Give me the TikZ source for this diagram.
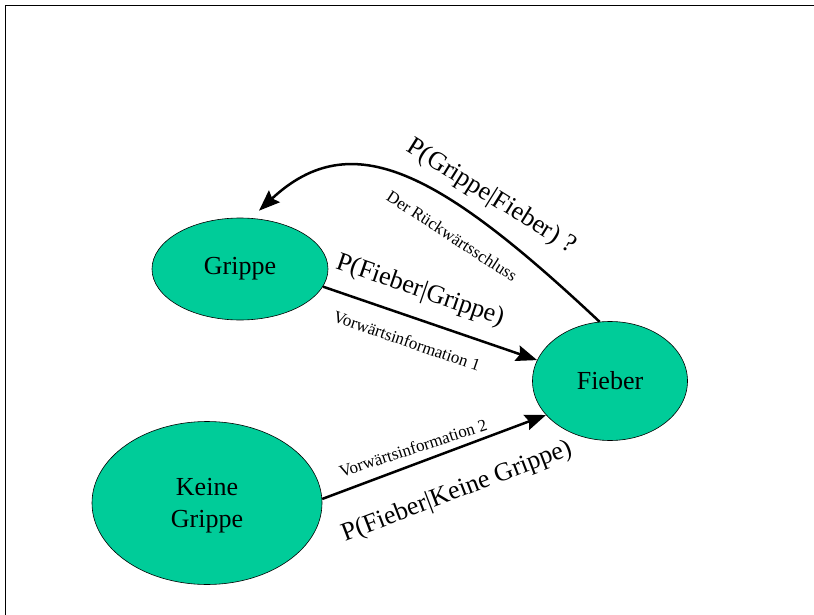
\documentclass[tikz,border=0pt]{standalone}
\usepackage{fontspec}
\setmainfont{Liberation Serif}
\usetikzlibrary{arrows.meta, shapes.geometric}
\definecolor{gruen}{HTML}{00CC99}
\tikzstyle{ereignis} = [ellipse, draw=black, line width=0.6pt, fill=gruen,
    inner sep=0pt, align=center, font=\fontsize{26}{32}\selectfont]

\begin{document}
\begin{tikzpicture}[x=1pt, y=-1pt,
pfeil/.style = {line width=2.5pt, -{Stealth[length=21pt, width=16pt, inset=3pt]}},
gross/.style = {font=\fontsize{26}{31}\selectfont, inner sep=0pt},
klein/.style = {font=\fontsize{17}{20}\selectfont, inner sep=0pt}
                        ]
\useasboundingbox (0,0) rectangle (814,615);
\draw[line width=1pt] (814,6) -- (5,6) -- (5,615);

% Ereignisse
\node [ereignis, minimum width=176pt, minimum height=102pt] (grippe) at (240,269) {Grippe};
\node [ereignis, minimum width=155pt, minimum height=119pt] (fieber) at (610,381) {Fieber};
\node [ereignis, minimum width=230pt, minimum height=163pt, text depth=0pt] (keine) at (207,503) {Keine\\Grippe};
\coordinate (gspitze) at ([shift={(19,-7)}]grippe.north);

% Pfeile
\draw [pfeil] (grippe.-12.7) -- (fieber.164.8);
\draw [pfeil] (keine.2.5) -- (fieber.208.3);
\draw [pfeil] (fieber.100) .. controls (440,172) and (352,124) .. (gspitze);

% Beschriftungen
\node [gross, rotate=-32] (lrueck) at (491,197) {P(Grippe|Fieber) ?};
\node [klein, rotate=-33] (trueck) at (452,236) {Der Rückwärtsschluss};
\node [gross, rotate=-19] (lvor1) at (420,291) {P(Fieber|Grippe)};
\node [klein, rotate=-19] (tvor1) at (407,341) {Vorwärtsinformation 1};
\node [klein, rotate=18] (tvor2) at (413,448) {Vorwärtsinformation 2};
\node [gross, rotate=21] (lvor2) at (457,492) {P(Fieber|Keine Grippe)};
\end{tikzpicture}
\end{document}
